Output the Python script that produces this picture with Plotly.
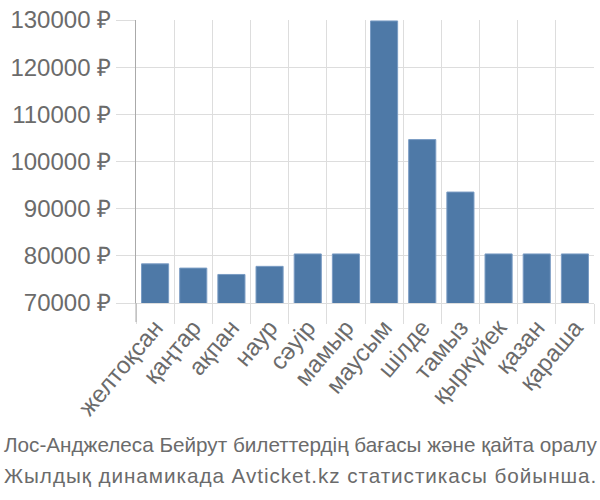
import plotly.graph_objects as go

months = ["желтоқсан", "қаңтар", "ақпан", "наур", "сәуір", "мамыр",
          "маусым", "шілде", "тамыз", "қыркүйек", "қазан", "қараша"]
prices = [78300, 77400, 76050, 77770, 80400, 80400,
          129800, 104650, 93520, 80400, 80400, 80400]
y_ticks = [70000, 80000, 90000, 100000, 110000, 120000, 130000]
title_lines = ["Лос-Анджелеса Бейрут билеттердің бағасы және қайта оралу",
               "Жылдық динамикада Avticket.kz статистикасы бойынша."]

GRID = "#dddddd"
TEXT = "#6b6b6b"
FONT = "Liberation Sans, Arial, sans-serif"

fig = go.Figure(go.Bar(
    x=months, y=prices,
    marker=dict(color="#4e79a7", line=dict(color="#7a9cc4", width=1)),
    width=0.71,
))

annotations = [
    dict(text=title_lines[0], xref="paper", yref="paper",
         x=(300 - 136) / 458, y=(303.5 - 448) / 289.5,
         xanchor="center", yanchor="middle", showarrow=False,
         font=dict(size=20.7, color=TEXT, family=FONT)),
    dict(text='<span style="letter-spacing:0.95px">' + title_lines[1] + "</span>",
         xref="paper", yref="paper",
         x=(300 - 136) / 458, y=(303.5 - 480) / 289.5,
         xanchor="center", yanchor="middle", showarrow=False,
         font=dict(size=20.7, color=TEXT, family=FONT)),
]

fig.update_layout(
    width=600, height=500,
    margin=dict(l=136, r=6, t=14, b=196.5),
    paper_bgcolor="white", plot_bgcolor="white",
    showlegend=False,
    font=dict(family=FONT, color=TEXT),
    annotations=annotations,
    xaxis=dict(
        type="category",
        tickson="boundaries",
        showgrid=True, gridcolor=GRID, gridwidth=1,
        ticks="outside", ticklen=20, tickcolor=GRID, tickwidth=1,
        tickangle=-50,
        tickfont=dict(size=24, color=TEXT, family=FONT),
        showline=True, linecolor=GRID, linewidth=1,
    ),
    yaxis=dict(
        range=[70000, 130000],
        tickvals=y_ticks,
        ticktext=[f"{v} ₽" for v in y_ticks],
        showgrid=True, gridcolor=GRID, gridwidth=1,
        ticks="outside", ticklen=19, tickcolor=GRID, tickwidth=1,
        tickfont=dict(size=24, color=TEXT, family=FONT),
        showline=True, linecolor="#aaaaaa", linewidth=1,
        zeroline=False,
    ),
    shapes=[dict(type="line", xref="paper", yref="paper",
                 x0=0, x1=0, y0=-19.5 / 289.5, y1=0,
                 line=dict(color="#aaaaaa", width=1))],
)

fig.write_html("out.html")
